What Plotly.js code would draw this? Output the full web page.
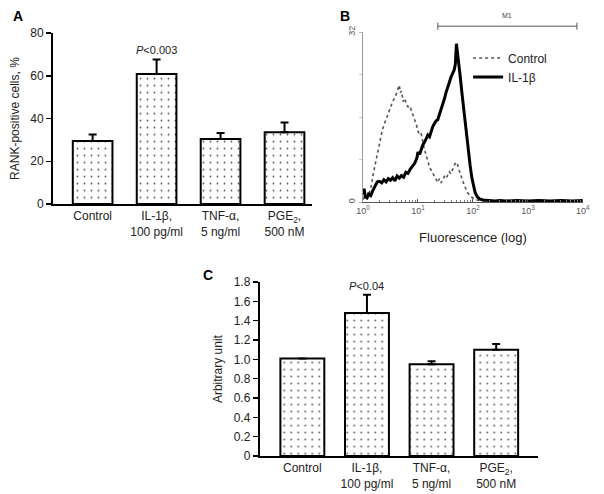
<!DOCTYPE html>
<html><head><meta charset="utf-8">
<script src="https://cdn.plot.ly/plotly-3.0.1.min.js"></script>
<style>html,body{margin:0;padding:0;background:#fff}#chart{width:604px;height:494px}</style>
</head><body><div id="chart"></div>
<script>
// ---------- data ----------
const categories = ["Control", "IL-1β,<br>100 pg/ml", "TNF-α,<br>5 ng/ml", "PGE<sub>2</sub>,<br>500 nM"];
// Panel A: RANK-positive cells, %
const rankMean = [29.5, 60.8, 30.4, 33.6];
const rankErr  = [3.0, 6.9, 2.8, 4.6];
const pTextA = "<i>P</i>&lt;0.003";
// Panel C: arbitrary unit
const arbMean = [1.01, 1.48, 0.95, 1.10];
const arbErr  = [null, 0.19, 0.03, 0.06];
const pTextC = "<i>P</i>&lt;0.04";
const yTicksA = [0, 20, 40, 60, 80];
const yTicksC = [0, 0.2, 0.4, 0.6, 0.8, 1.0, 1.2, 1.4, 1.6, 1.8];
const yTickTextC = ["0", "0.2", "0.4", "0.6", "0.8", "1.0", "1.2", "1.4", "1.6", "1.8"];
// Panel B: flow cytometry histogram (log10 fluorescence, counts)
const ctrlLogF = [0.00,0.04,0.08,0.12,0.15,0.18,0.22,0.26,0.30,0.34,0.38,0.42,0.46,0.50,0.54,0.58,0.62,0.66,0.68,0.70,0.73,0.76,0.79,0.82,0.85,0.88,0.91,0.94,0.97,1.00,1.03,1.06,1.09,1.12,1.15,1.18,1.21,1.24,1.27,1.30,1.33,1.36,1.39,1.42,1.45,1.48,1.51,1.54,1.57,1.60,1.63,1.66,1.69,1.72,1.75,1.78,1.81,1.84,1.87,1.90,1.94,1.98,2.04,2.10,2.20,2.40,2.80,3.20,3.60,4.00];
const ctrlCount = [0.5,1.0,0.6,1.8,3.0,5.0,7.0,9.5,11.5,13.0,14.5,15.5,16.8,17.8,19.0,19.6,20.8,22.0,20.6,20.9,18.9,19.5,18.4,17.9,18.1,17.2,16.6,15.6,14.6,13.4,12.6,12.8,11.0,9.8,8.8,7.6,6.6,6.0,5.4,4.6,4.0,3.7,4.4,3.6,4.2,4.8,4.4,5.2,5.7,5.3,6.3,6.9,7.5,7.0,6.0,5.0,4.0,3.2,2.5,1.8,1.3,0.9,0.5,0.3,0.2,0.1,0.1,0.1,0.1,0.1];
const il1LogF = [0.00,0.02,0.04,0.07,0.10,0.14,0.18,0.22,0.26,0.30,0.34,0.38,0.42,0.46,0.50,0.54,0.58,0.62,0.66,0.70,0.74,0.78,0.82,0.86,0.90,0.94,0.98,1.00,1.03,1.06,1.09,1.12,1.15,1.18,1.21,1.24,1.27,1.30,1.33,1.36,1.39,1.42,1.45,1.48,1.51,1.54,1.57,1.60,1.63,1.66,1.68,1.70,1.72,1.74,1.77,1.80,1.83,1.86,1.89,1.92,1.95,1.98,2.01,2.04,2.08,2.12,2.18,2.30,2.40,2.50,2.60,2.80,3.00,3.20,3.40,3.60,3.80,4.00];
const il1Count = [1.5,2.5,1.0,0.8,1.5,1.2,2.2,3.0,3.8,3.9,3.6,4.2,3.8,4.4,4.1,4.6,4.0,4.9,4.5,5.0,4.7,5.6,5.4,6.2,6.8,7.3,8.3,9.4,9.0,10.1,10.8,11.3,12.0,12.6,12.3,13.4,14.2,14.8,15.3,15.5,16.4,17.4,18.6,19.4,20.6,21.8,22.5,23.5,24.1,24.9,26.0,29.8,28.0,26.5,23.5,20.5,17.5,14.8,12.0,9.0,6.8,4.6,3.0,1.8,1.0,0.6,0.4,0.3,0.2,0.3,0.2,0.3,0.2,0.3,0.2,0.3,0.2,0.3];
const xTickValsB = [1, 10, 100, 1000, 10000];
const xTickTextB = ["10<sup>0</sup>", "10<sup>1</sup>", "10<sup>2</sup>", "10<sup>3</sup>", "10<sup>4</sup>"];
const yTicksB = [0, 32];
const yTickTextB = ["0", "32"];
const m1Gate = [23, 7800];

// ---------- styles ----------
const FONT = "Liberation Sans, Arial, sans-serif";
const TXT = "#222";
const barStyle = {
  color: "white",
  line: {color: "black", width: 2},
  pattern: {shape: ".", fgcolor: "#555", bgcolor: "white", size: 7, solidity: 0.05}
};
function errStyle(arr) {
  return {type: "data", symmetric: false, array: arr, arrayminus: arr.map(() => 0),
          color: "black", thickness: 2, width: 4};
}

const traces = [
  {type: "bar", x: categories, y: rankMean, xaxis: "x", yaxis: "y", width: 0.62,
   marker: barStyle, error_y: errStyle(rankErr), showlegend: false, hoverinfo: "skip"},
  {type: "bar", x: categories, y: arbMean, xaxis: "x3", yaxis: "y3", width: 0.68,
   marker: barStyle, error_y: errStyle(arbErr), showlegend: false, hoverinfo: "skip"},
  {type: "scatter", mode: "lines", name: "Control", x: ctrlLogF.map(v => Math.pow(10, v)), y: ctrlCount,
   xaxis: "x2", yaxis: "y2", line: {color: "#555", width: 1.6, dash: "dot"}},
  {type: "scatter", mode: "lines", name: "IL-1β", x: il1LogF.map(v => Math.pow(10, v)), y: il1Count,
   xaxis: "x2", yaxis: "y2", line: {color: "black", width: 3}}
];

const barX = (domain, range) => ({
  domain: domain, range: range, type: "category", showline: true, linecolor: "black", linewidth: 2,
  ticks: "", showgrid: false, zeroline: false, fixedrange: true,
  tickfont: {family: FONT, size: 12, color: TXT}
});
const barY = (domain, range, vals, text, title) => ({
  domain: domain, range: range, showline: true, linecolor: "black", linewidth: 2,
  ticks: "outside", ticklen: 5, tickwidth: 1.5, tickcolor: "black",
  tickvals: vals, ticktext: text, showgrid: false, zeroline: false,
  tickfont: {family: FONT, size: 12, color: TXT},
  title: {text: title, font: {family: FONT, size: 12, color: TXT}, standoff: 8}
});

const layout = {
  width: 604, height: 494, margin: {l: 0, r: 0, t: 0, b: 0},
  paper_bgcolor: "white", plot_bgcolor: "white",
  font: {family: FONT, color: TXT},
  xaxis: barX([0.0877, 0.5166], [-0.62, 3.43]),
  yaxis: Object.assign(barY([0.587, 0.933], [0, 80], yTicksA, yTicksA.map(String), "RANK-positive cells, %"), {anchor: "x"}),
  xaxis2: {
    domain: [0.601, 0.965], type: "log", range: [0, 4], anchor: "y2",
    showline: true, linecolor: "#555", linewidth: 1, showgrid: false, zeroline: false,
    ticks: "inside", ticklen: 3, tickcolor: "#555", tickvals: xTickValsB, ticktext: xTickTextB,
    tickfont: {family: FONT, size: 9, color: "#555"},
    minor: {ticks: "inside", ticklen: 2, tickcolor: "#777", dtick: "D1", showgrid: false},
    title: {text: "Fluorescence (log)", font: {family: FONT, size: 13, color: TXT}, standoff: 18}
  },
  yaxis2: {
    domain: [0.591, 0.935], range: [0, 32], anchor: "x2",
    showline: true, linecolor: "#999", linewidth: 1, showgrid: false, zeroline: false,
    ticks: "outside", ticklen: 3, tickcolor: "#bbb", tickvals: yTicksB, ticktext: yTickTextB,
    minor: {ticks: "outside", ticklen: 3, tickcolor: "#ccc", dtick: 8, tick0: 0, showgrid: false},
    tickangle: -90, tickfont: {family: FONT, size: 9, color: "#555"}
  },
  xaxis3: Object.assign(barX([0.430, 0.891], [-0.66, 3.65]), {anchor: "y3"}),
  yaxis3: Object.assign(barY([0.0769, 0.429], [0, 1.8], yTicksC, yTickTextC, "Arbitrary unit"), {anchor: "x3"}),
  legend: {x: 0.775, y: 0.912, xanchor: "left", yanchor: "top", bgcolor: "rgba(0,0,0,0)",
           font: {family: FONT, size: 12, color: TXT}, itemwidth: 30, tracegroupgap: 0},
  shapes: [
    {type: "line", xref: "x2", yref: "paper", x0: m1Gate[0], x1: m1Gate[1], y0: 0.947, y1: 0.947, line: {color: "#555", width: 1}},
    {type: "line", xref: "x2", yref: "paper", x0: m1Gate[0], x1: m1Gate[0], y0: 0.940, y1: 0.954, line: {color: "#555", width: 1}},
    {type: "line", xref: "x2", yref: "paper", x0: m1Gate[1], x1: m1Gate[1], y0: 0.940, y1: 0.954, line: {color: "#555", width: 1}}
  ],
  annotations: [
    {text: "<b>A</b>", xref: "paper", yref: "paper", x: 18 / 604, y: 1 - 16 / 494, xanchor: "center", yanchor: "middle", showarrow: false, font: {family: FONT, size: 14, color: "black"}},
    {text: "<b>B</b>", xref: "paper", yref: "paper", x: 345 / 604, y: 1 - 16 / 494, xanchor: "center", yanchor: "middle", showarrow: false, font: {family: FONT, size: 14, color: "black"}},
    {text: "<b>C</b>", xref: "paper", yref: "paper", x: 208 / 604, y: 1 - 275 / 494, xanchor: "center", yanchor: "middle", showarrow: false, font: {family: FONT, size: 14, color: "black"}},
    {text: pTextA, xref: "x", yref: "y", x: categories[1], y: rankMean[1] + rankErr[1], yanchor: "bottom", yshift: 1, showarrow: false, font: {family: FONT, size: 11, color: TXT}},
    {text: pTextC, xref: "x3", yref: "y3", x: categories[1], y: arbMean[1] + arbErr[1], yanchor: "bottom", yshift: 1, showarrow: false, font: {family: FONT, size: 11, color: TXT}},
    {text: "M1", xref: "x2", yref: "paper", x: (Math.log10(m1Gate[0]) + Math.log10(m1Gate[1])) / 2, y: 1 - 15 / 494, xanchor: "center", yanchor: "middle", showarrow: false, font: {family: FONT, size: 7, color: "#444"}}
  ]
};

Plotly.newPlot("chart", traces, layout, {displayModeBar: false, staticPlot: true});
</script>
</body></html>
